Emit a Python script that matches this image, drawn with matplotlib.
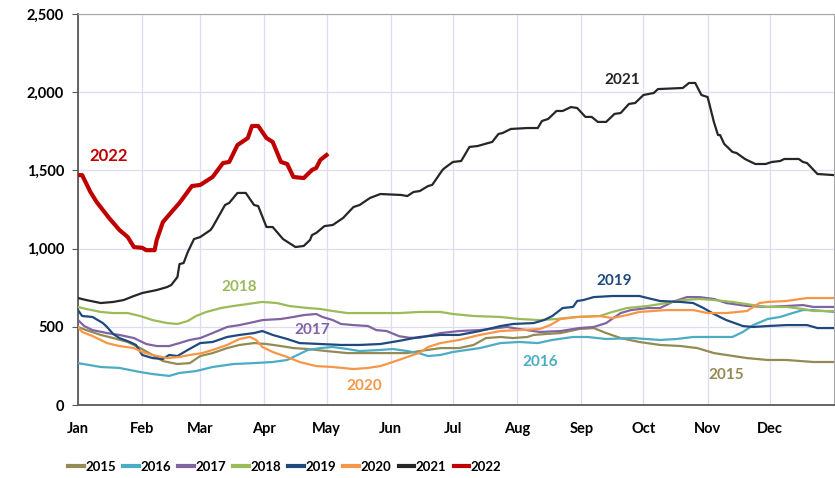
#! /usr/bin/env python3
import matplotlib
matplotlib.use('Agg')
import matplotlib.pyplot as plt

# month labels and the day-of-year each month starts
months = ['Jan', 'Feb', 'Mar', 'Apr', 'May', 'Jun',
          'Jul', 'Aug', 'Sep', 'Oct', 'Nov', 'Dec']
month_start = [0, 31, 59, 90, 120, 151, 181, 212, 243, 273, 304, 334]

# values (day of year, value)
days_2015 = [0, 4, 11, 17, 24, 30, 36, 41, 48, 54, 59, 65, 72, 78, 85, 91,
             98, 104, 111, 120, 130, 140, 149, 159, 165, 175, 184, 191, 197,
             204, 210, 217, 220, 226, 233, 242, 249, 255, 262, 271, 281, 291,
             299, 307, 313, 323, 333, 342, 355, 365]
vals_2015 = [499, 479, 448, 428, 403, 364, 320, 281, 262, 268, 313, 332, 364,
             384, 396, 390, 377, 364, 358, 345, 332, 332, 332, 332, 345, 364,
             364, 384, 428, 435, 428, 435, 448, 454, 460, 486, 492, 460, 428,
             403, 384, 377, 364, 332, 320, 300, 288, 288, 275, 275]

days_2016 = [0, 11, 20, 30, 36, 44, 49, 57, 65, 75, 85, 94, 101, 106, 111,
             117, 123, 130, 136, 146, 152, 159, 165, 169, 175, 181, 194, 204,
             213, 222, 229, 239, 246, 255, 268, 281, 289, 297, 307, 316, 321,
             326, 333, 339, 345, 350, 355, 365]
vals_2016 = [268, 243, 237, 211, 198, 186, 205, 217, 243, 262, 268, 275, 288,
             320, 352, 364, 371, 358, 345, 352, 358, 345, 330, 313, 320, 339,
             364, 396, 403, 396, 416, 435, 435, 422, 428, 416, 422, 435, 435,
             435, 467, 511, 550, 563, 588, 607, 607, 595]

days_2017 = [0, 3, 7, 14, 20, 27, 33, 38, 44, 49, 54, 59, 65, 72, 78, 85, 89,
             98, 104, 109, 115, 118, 123, 127, 133, 140, 144, 149, 155, 160,
             165, 175, 184, 194, 207, 213, 223, 233, 242, 249, 255, 262, 267,
             275, 281, 284, 287, 294, 300, 307, 313, 323, 333, 342, 350, 355,
             365]
vals_2017 = [543, 505, 479, 460, 448, 428, 390, 377, 377, 396, 416, 428, 460,
             499, 511, 531, 543, 550, 563, 575, 582, 563, 543, 518, 511, 505,
             479, 473, 440, 430, 430, 460, 473, 479, 499, 486, 467, 473, 492,
             499, 524, 588, 607, 620, 620, 639, 659, 690, 690, 678, 652, 633,
             627, 633, 639, 627, 627]

days_2018 = [0, 4, 11, 17, 24, 30, 36, 43, 48, 53, 57, 62, 69, 75, 82, 89, 96,
             102, 111, 117, 123, 130, 140, 147, 155, 165, 175, 181, 191, 204,
             213, 223, 231, 241, 252, 258, 265, 275, 284, 292, 300, 307, 316,
             326, 333, 342, 350, 355, 365]
vals_2018 = [627, 614, 595, 588, 588, 569, 543, 524, 518, 537, 569, 595, 620,
             633, 646, 659, 652, 633, 620, 614, 601, 588, 588, 588, 588, 595,
             595, 582, 569, 563, 550, 543, 550, 563, 569, 595, 620, 633, 652,
             671, 678, 671, 659, 639, 627, 627, 614, 601, 601]

days_2019 = [0, 2, 7, 12, 14, 17, 20, 25, 28, 31, 36, 41, 44, 48, 53, 59, 65,
             72, 78, 85, 89, 94, 101, 107, 117, 127, 136, 146, 155, 165, 175,
             184, 194, 204, 210, 220, 225, 229, 234, 239, 241, 244, 249, 258,
             271, 275, 281, 291, 297, 302, 307, 313, 321, 326, 333, 342, 352,
             357, 365]
vals_2019 = [607, 569, 563, 524, 499, 454, 428, 403, 384, 320, 300, 294, 320,
             313, 352, 396, 403, 435, 448, 460, 473, 448, 422, 396, 390, 384,
             384, 390, 410, 435, 448, 448, 473, 505, 518, 524, 543, 569, 620,
             627, 665, 671, 690, 697, 697, 684, 665, 659, 652, 620, 582, 543,
             505, 499, 505, 511, 511, 492, 492]

days_2020 = [0, 2, 7, 14, 20, 27, 31, 36, 43, 49, 54, 60, 65, 72, 78, 83, 86,
             89, 94, 101, 107, 115, 123, 133, 140, 146, 152, 159, 165, 169,
             175, 184, 194, 204, 213, 223, 228, 233, 241, 252, 258, 265, 271,
             284, 297, 304, 313, 323, 329, 333, 342, 352, 365]
vals_2020 = [499, 467, 441, 396, 377, 364, 339, 320, 300, 307, 320, 332, 352,
             384, 422, 435, 416, 371, 339, 307, 275, 249, 243, 230, 237, 249,
             275, 307, 335, 371, 396, 416, 448, 473, 479, 486, 511, 550, 563,
             569, 556, 575, 595, 607, 607, 588, 588, 601, 652, 659, 665, 684,
             684]

days_2021 = [0, 4, 11, 17, 22, 27, 31, 38, 43, 45, 48, 49, 51, 53, 56, 59,
             64, 65, 71, 73, 77, 81, 85, 87, 91, 94, 99, 105, 109, 112, 113,
             115, 119, 123, 128, 133, 136, 141, 146, 156, 159, 162, 165, 169,
             171, 176, 177, 181, 185, 189, 193, 198, 200, 203, 205, 209, 217,
             222, 224, 227, 231, 234, 238, 241, 245, 248, 251, 255, 259, 262,
             266, 269, 273, 278, 280, 292, 295, 298, 301, 304, 307, 309, 310,
             312, 316, 318, 322, 324, 327, 332, 335, 339, 341, 348, 350, 352,
             357, 365]
vals_2021 = [684, 671, 652, 659, 671, 697, 716, 735, 754, 767, 818, 901, 908,
             978, 1061, 1074, 1119, 1138, 1279, 1292, 1356, 1356, 1279, 1272,
             1138, 1138, 1061, 1010, 1017, 1055, 1087, 1100, 1144, 1151, 1196,
             1266, 1279, 1324, 1349, 1343, 1336, 1362, 1368, 1400, 1407, 1503,
             1515, 1554, 1560, 1650, 1656, 1675, 1682, 1733, 1739, 1765, 1771,
             1771, 1816, 1829, 1880, 1880, 1905, 1899, 1842, 1842, 1810, 1810,
             1861, 1867, 1925, 1931, 1982, 1995, 2020, 2027, 2059, 2059, 1982,
             1969, 1810, 1726, 1726, 1669, 1618, 1611, 1573, 1560, 1541, 1541,
             1554, 1560, 1573, 1573, 1554, 1547, 1477, 1470]

days_2022 = [0, 2, 6, 9, 15, 20, 24, 27, 31, 33, 37, 38, 41, 46, 49, 55, 59,
             65, 70, 73, 77, 82, 84, 87, 91, 94, 98, 101, 104, 109, 113, 115,
             117, 120]
vals_2022 = [1470, 1470, 1362, 1298, 1196, 1119, 1074, 1010, 1005, 990, 990,
             1055, 1170, 1247, 1292, 1400, 1407, 1458, 1547, 1554, 1662, 1707,
             1784, 1784, 1707, 1682, 1554, 1541, 1458, 1451, 1503, 1515, 1567,
             1598]

series = [
    ('2015', days_2015, vals_2015, '#948a54', 1.6),
    ('2016', days_2016, vals_2016, '#4bacc6', 1.6),
    ('2017', days_2017, vals_2017, '#8064a2', 1.6),
    ('2018', days_2018, vals_2018, '#9bbb59', 1.6),
    ('2019', days_2019, vals_2019, '#1f497d', 1.6),
    ('2020', days_2020, vals_2020, '#f79646', 1.6),
    ('2021', days_2021, vals_2021, '#262626', 1.6),
    ('2022', days_2022, vals_2022, '#c00000', 3.0),
]

# label name, day, value placement for in-chart year labels
labels = [
    ('2022', 15, 1590, 12), ('2021', 263, 2080, 11), ('2018', 78, 752, 11),
    ('2017', 113, 482, 11), ('2019', 259, 790, 11), ('2020', 138, 120, 11),
    ('2016', 223, 272, 11), ('2015', 313, 190, 11),
]

font = ['Lato', 'DejaVu Sans']
plt.rcParams['font.family'] = font

fig = plt.figure(figsize=(8.35, 4.78), dpi=100)
ax = fig.add_axes([0.0934, 0.1527, 0.9054, 0.818])

colors = {}
for name, d, v, c, lw in series:
    assert len(d) == len(v), name
    ax.plot(d, v, color=c, lw=lw, label=name, solid_joinstyle='round',
            zorder=3 if name != '2022' else 4)
    colors[name] = c

for name, d, v, fs in labels:
    ax.text(d, v, name, color=colors[name], fontsize=fs, fontweight='bold',
            ha='center', va='center')

ax.set_xlim(0, 365)
ax.set_ylim(0, 2500)
ax.set_xticks(month_start)
ax.set_xticklabels(months)
ax.set_yticks(range(0, 2501, 500))
ax.set_yticklabels(['{:,}'.format(t) for t in range(0, 2501, 500)])
ax.grid(True, color='#dcdcf4', lw=0.9, zorder=0)
ax.set_axisbelow(True)
ax.tick_params(axis='x', length=0, pad=12, labelsize=10.5)
ax.tick_params(axis='y', length=4, color='#595959', pad=6, labelsize=10.5)
for lab in ax.get_xticklabels() + ax.get_yticklabels():
    lab.set_fontweight('bold')
for side in ['top', 'right']:
    ax.spines[side].set_color('#a6a6a6')
for side in ['left', 'bottom']:
    ax.spines[side].set_color('#595959')
    ax.spines[side].set_linewidth(1.3)

leg = fig.legend(loc='center', bbox_to_anchor=(0.341, 0.024), ncol=8,
                 frameon=False, handlelength=1.2, handletextpad=0.1,
                 columnspacing=0.55,
                 prop={'family': font, 'weight': 'bold', 'size': 9.5})
for h in leg.get_lines():
    h.set_linewidth(3)

fig.savefig('out.png', dpi=100)
